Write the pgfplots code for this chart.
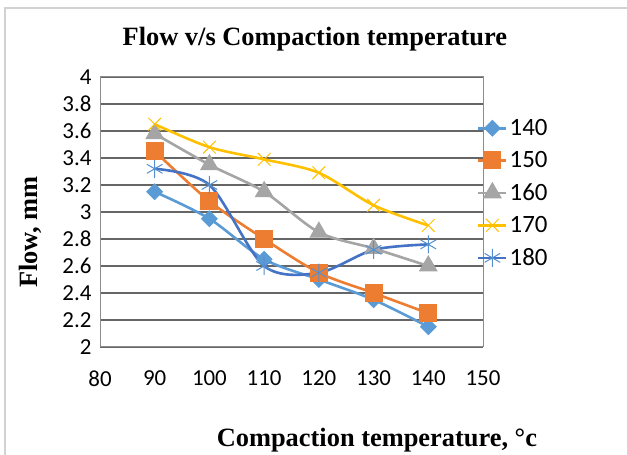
\documentclass[border=0pt]{standalone}
\usepackage{fontspec}
\setmainfont{Carlito}
\newfontfamily\tnr{Liberation Serif}
\usepackage{pgfplots}
\pgfplotsset{compat=1.18}
\definecolor{cA}{HTML}{5B9BD5}
\definecolor{cB}{HTML}{ED7D31}
\definecolor{cC}{HTML}{A5A5A5}
\definecolor{cD}{HTML}{FFC000}
\definecolor{cE}{HTML}{4472C4}
\begin{document}
\begin{tikzpicture}[x=1bp,y=1bp]
\useasboundingbox (0,0) rectangle (627,455);
\draw[gray!35, line width=1.2bp] (5,0) -- (5,447) -- (627,447);
\begin{axis}[
  at={(100bp,108bp)}, anchor=south west,
  width=383bp, height=270bp, scale only axis,
  xmin=80, xmax=150, ymin=2, ymax=4,
  xtick={80,90,100,110,120,130,140,150},
  ytick={2,2.2,2.4,2.6,2.8,3,3.2,3.4,3.6,3.8,4},
  major tick length=0pt,
  ymajorgrids, grid style={black!60, line width=1.3bp},
  axis line style={black!45, line width=1bp},
  /pgf/number format/assume math mode=true,
  ticklabel style={font=\fontsize{23}{27}\selectfont},
  xticklabel style={yshift=-20bp},
  yticklabel style={xshift=-5bp},
  title={Flow v/s Compaction temperature},
  title style={font=\tnr\bfseries\fontsize{26.5}{30}\selectfont, at={(axis description cs:0.561,1.096)}, anchor=base},
  xlabel={Compaction temperature, °c},
  xlabel style={font=\tnr\bfseries\fontsize{26.5}{30}\selectfont, at={(axis description cs:0.723,-0.370)}, anchor=base},
  ylabel={Flow, mm},
  ylabel style={font=\tnr\bfseries\fontsize{26.5}{30}\selectfont, at={(axis description cs:-0.183,0.426)}, anchor=center},
  legend style={at={(axis description cs:0.984,0.851)}, anchor=north west, draw=none, fill=none,
    font=\fontsize{25}{30}\selectfont, inner sep=0pt, row sep=10.5bp},
  legend cell align=left,
  legend image code/.code={\draw[mark repeat=2,mark phase=2,#1] plot coordinates {(0bp,0bp) (14bp,0bp) (28bp,0bp)};},
  every axis plot/.append style={line width=2.6bp, smooth, tension=0.5},
]
\addplot[color=cA, mark=square*, mark size=5.5bp, mark options={rotate=45, line width=1bp}] coordinates {
(90,3.15) (100,2.95) (110,2.65) (120,2.5) (130,2.35) (140,2.15)};
\addlegendentry{140}
\addplot[color=cB, mark=square*, mark size=8.5bp, mark options={line width=1bp}] coordinates {
(90,3.45) (100,3.08) (110,2.8) (120,2.55) (130,2.4) (140,2.25)};
\addlegendentry{150}
\addplot[color=cC, mark=triangle*, mark size=10bp, mark options={line width=1bp}] coordinates {
(90,3.58) (100,3.35) (110,3.15) (120,2.85) (130,2.73) (140,2.6)};
\addlegendentry{160}
\addplot[color=cD, mark=x, mark size=9bp, mark options={line width=1bp}] coordinates {
(90,3.65) (100,3.48) (110,3.39) (120,3.29) (130,3.05) (140,2.9)};
\addlegendentry{170}
\addplot[color=cE, mark=asterisk, mark size=9bp, mark options={line width=1bp, color=cA!70!cE}] coordinates {
(90,3.32) (100,3.2) (110,2.6) (120,2.55) (130,2.72) (140,2.76)};
\addlegendentry{180}
\end{axis}
\end{tikzpicture}
\end{document}
